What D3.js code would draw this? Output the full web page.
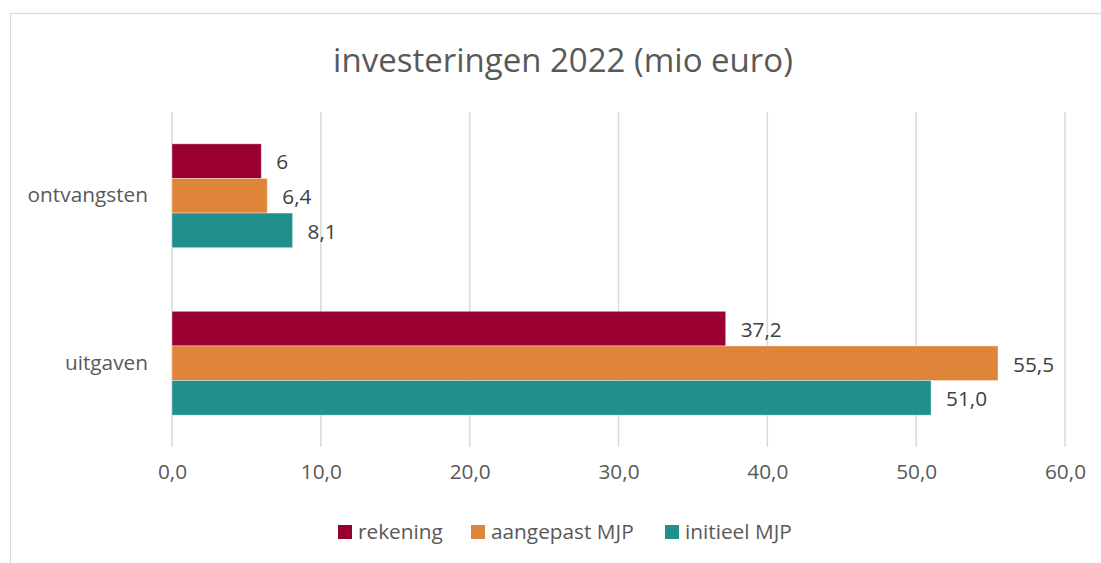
<!DOCTYPE html>
<html>
<head>
<meta charset="utf-8">
<script src="https://cdn.jsdelivr.net/npm/d3@7"></script>
<style>
  html, body { margin: 0; padding: 0; background: #fff; }
  svg { display: block; font-family: "Open Sans", "Noto Sans", sans-serif; }
</style>
</head>
<body>
<svg id="chart" width="1101" height="563"></svg>
<script>
// Investment figures 2022, in millions of euro
const categories = ["ontvangsten", "uitgaven"];
const seriesNames = ["rekening", "aangepast MJP", "initieel MJP"];
const seriesColors = ["#990030", "#DF853A", "#21908C"];
const rekening = [6, 37.2];
const aangepastMJP = [6.4, 55.5];
const initieelMJP = [8.1, 51.0];
// decimals shown in each data label, per series and category
const labelDecimals = [[0, 1], [1, 1], [1, 1]];
const xTicks = [0, 10, 20, 30, 40, 50, 60];
const title = "investeringen 2022 (mio euro)";

const seriesValues = [rekening, aangepastMJP, initieelMJP];

const svg = d3.select("#chart");
const W = 1101, H = 563;
const plot = { left: 172, right: 1065, top: 112, bottom: 447 };
const FONT = "'Open Sans', 'Noto Sans', sans-serif";
const FS = 20.8;

// chart area frame
svg.append("rect")
  .attr("x", 10.5).attr("y", 13.5)
  .attr("width", W + 20).attr("height", H + 20)
  .attr("fill", "#fff").attr("stroke", "#d9d9d9").attr("stroke-width", 1.2);

const x = d3.scaleLinear().domain([0, 60]).range([plot.left, plot.right]);
const y0 = d3.scaleBand().domain(categories).range([plot.top, plot.bottom]).paddingInner(0.38).paddingOuter(0.19);
const y1 = d3.scaleBand().domain(seriesNames).range([0, y0.bandwidth()]);

// vertical gridlines
svg.append("g").selectAll("line").data(xTicks).join("line")
  .attr("x1", d => x(d)).attr("x2", d => x(d))
  .attr("y1", plot.top).attr("y2", plot.bottom)
  .attr("stroke", "#d9d9d9").attr("stroke-width", 1.5);

// tick labels along the bottom
const fmt1 = v => v.toFixed(1).replace(".", ",");
const xAxis = d3.axisBottom(x).tickValues(xTicks).tickFormat(fmt1).tickSize(0).tickPadding(0);
const gx = svg.append("g").attr("transform", `translate(0,${plot.bottom + 25})`).call(xAxis);
gx.select(".domain").remove();
gx.selectAll("text")
  .attr("font-size", FS).attr("fill", "#595959")
  .attr("font-family", FONT)
  .attr("dy", "0.35em");

// category labels
const yAxis = d3.axisLeft(y0).tickSize(0).tickPadding(24);
const gy = svg.append("g").attr("transform", `translate(${plot.left},0)`).call(yAxis);
gy.select(".domain").remove();
gy.selectAll("text")
  .attr("font-size", FS).attr("fill", "#595959")
  .attr("font-family", FONT);

// bars
const points = [];
seriesValues.forEach((vals, si) => {
  vals.forEach((v, ci) => points.push({ s: seriesNames[si], si, c: categories[ci], ci, v }));
});

svg.append("g").selectAll("rect").data(points).join("rect")
  .attr("x", x(0))
  .attr("y", d => y0(d.c) + y1(d.s))
  .attr("width", d => x(d.v) - x(0))
  .attr("height", y1.bandwidth())
  .attr("fill", d => seriesColors[d.si])
  .attr("stroke", "#ffffff").attr("stroke-opacity", 0.45).attr("stroke-width", 0.8);

// data labels
svg.append("g").selectAll("text").data(points).join("text")
  .attr("x", d => x(d.v) + 15)
  .attr("y", d => y0(d.c) + y1(d.s) + y1.bandwidth() / 2 + 1)
  .attr("dy", "0.35em")
  .attr("font-size", FS).attr("fill", "#404040")
  .text(d => d.v.toFixed(labelDecimals[d.si][d.ci]).replace(".", ","));

// title
svg.append("text")
  .attr("x", 563).attr("y", 60).attr("dy", "0.35em")
  .attr("text-anchor", "middle")
  .attr("font-size", 33).attr("fill", "#595959")
  .text(title);

// legend
const legendX = [338, 471, 665];
const lg = svg.append("g").selectAll("g").data(seriesNames).join("g")
  .attr("transform", (d, i) => `translate(${legendX[i]},532)`);
lg.append("rect").attr("x", 0).attr("y", -7).attr("width", 14).attr("height", 14)
  .attr("fill", (d, i) => seriesColors[i]);
lg.append("text").attr("x", 20).attr("y", 0).attr("dy", "0.35em")
  .attr("font-size", FS).attr("fill", "#595959")
  .text(d => d);
</script>
</body>
</html>
